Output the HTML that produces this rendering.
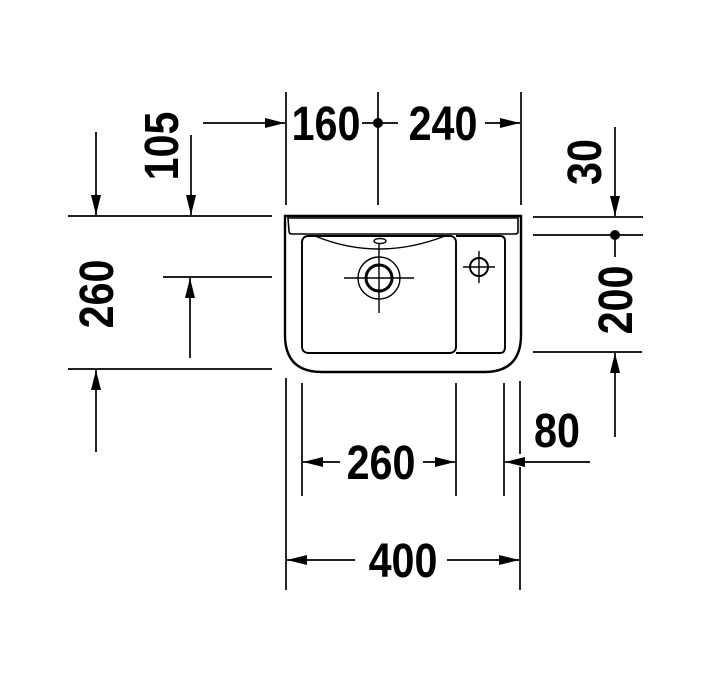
<!DOCTYPE html>
<html><head><meta charset="utf-8"><style>
html,body{margin:0;padding:0;background:#fff;}
svg{display:block;}
text{font-family:"Liberation Sans",Arial,sans-serif;font-weight:bold;font-size:48px;fill:#000;}
</style></head><body>
<svg width="709" height="680" viewBox="0 0 709 680" xmlns="http://www.w3.org/2000/svg">
<defs>
<marker id="a" viewBox="0 0 20 10" refX="20" refY="5" markerWidth="20" markerHeight="10" markerUnits="userSpaceOnUse" orient="auto"><path d="M0,0L20,5L0,10z" fill="#000"/></marker>
</defs>
<g stroke="#000" stroke-width="1.7" fill="none">
<line x1="286" y1="92" x2="286" y2="205"/>
<line x1="378" y1="92" x2="378" y2="205"/>
<line x1="521" y1="92" x2="521" y2="205"/>
<line x1="203" y1="123" x2="285" y2="123" marker-end="url(#a)"/>
<line x1="362" y1="123" x2="398" y2="123"/>
<line x1="485" y1="123" x2="520" y2="123" marker-end="url(#a)"/>
<line x1="68" y1="216" x2="272" y2="216"/>
<line x1="96" y1="132" x2="96" y2="215" marker-end="url(#a)"/>
<line x1="191" y1="135" x2="191" y2="215" marker-end="url(#a)"/>
<line x1="163" y1="277" x2="272" y2="277"/>
<line x1="190" y1="358" x2="190" y2="278" marker-end="url(#a)"/>
<line x1="68" y1="369" x2="272" y2="369"/>
<line x1="96" y1="452" x2="96" y2="370" marker-end="url(#a)"/>
<line x1="533" y1="217" x2="643" y2="217"/>
<line x1="533" y1="235" x2="643" y2="235"/>
<line x1="615" y1="127" x2="615" y2="216" marker-end="url(#a)"/>
<line x1="615" y1="235" x2="615" y2="257"/>
<line x1="533" y1="352" x2="642" y2="352"/>
<line x1="615" y1="437" x2="615" y2="353" marker-end="url(#a)"/>
<line x1="286" y1="378" x2="286" y2="590"/>
<line x1="302" y1="383" x2="302" y2="496"/>
<line x1="456" y1="383" x2="456" y2="496"/>
<line x1="504" y1="383" x2="504" y2="496"/>
<line x1="520" y1="381" x2="520" y2="454"/>
<line x1="520" y1="467" x2="520" y2="590"/>
<line x1="340" y1="462" x2="303" y2="462" marker-end="url(#a)"/>
<line x1="423" y1="462" x2="455" y2="462" marker-end="url(#a)"/>
<line x1="590" y1="462" x2="505" y2="462" marker-end="url(#a)"/>
<line x1="355" y1="560" x2="287" y2="560" marker-end="url(#a)"/>
<line x1="447" y1="560" x2="519" y2="560" marker-end="url(#a)"/>
</g>
<circle cx="378" cy="123" r="5" fill="#000"/>
<circle cx="615" cy="235" r="5" fill="#000"/>
<g stroke="#000" fill="none">
<path d="M285,216 H521 V335 Q521,372 484,372 H322 Q285,372 285,335 Z" stroke-width="2.4"/>
<path d="M288,218 H518 V232 Q518,234 515,234 H292 Q289,234 289,231 Z" stroke-width="1.6"/>
<rect x="302" y="236" width="154" height="117" rx="6" stroke-width="1.9"/>
<path d="M456,236 H500 Q505,236 505,241 V347 Q505,353 500,353 H456" stroke-width="1.9"/>
<path d="M315,236 Q378,262 445,236" stroke-width="1.4"/>
<ellipse cx="380" cy="241" rx="6" ry="2.5" stroke-width="1.4"/>
<circle cx="379" cy="278" r="21" stroke-width="1.4"/>
<circle cx="379" cy="278" r="13" stroke-width="3"/>
<line x1="344" y1="278" x2="414" y2="278" stroke-width="1.4"/>
<line x1="379" y1="243" x2="379" y2="313" stroke-width="1.4"/>
<circle cx="479" cy="267" r="9" stroke-width="2"/>
<line x1="463" y1="267" x2="495" y2="267" stroke-width="1.4"/>
<line x1="479" y1="251" x2="479" y2="283" stroke-width="1.4"/>
</g>
<text transform="translate(326,140) scale(0.86,1)" text-anchor="middle">160</text>
<text transform="translate(443,140) scale(0.86,1)" text-anchor="middle">240</text>
<text transform="translate(178,146) rotate(-90) scale(0.86,1)" text-anchor="middle">105</text>
<text transform="translate(113,294) rotate(-90) scale(0.86,1)" text-anchor="middle">260</text>
<text transform="translate(601,162) rotate(-90) scale(0.86,1)" text-anchor="middle">30</text>
<text transform="translate(632,300) rotate(-90) scale(0.86,1)" text-anchor="middle">200</text>
<text transform="translate(381,479) scale(0.86,1)" text-anchor="middle">260</text>
<text transform="translate(557,447) scale(0.86,1)" text-anchor="middle">80</text>
<text transform="translate(403,577) scale(0.86,1)" text-anchor="middle">400</text>
</svg>
</body></html>
